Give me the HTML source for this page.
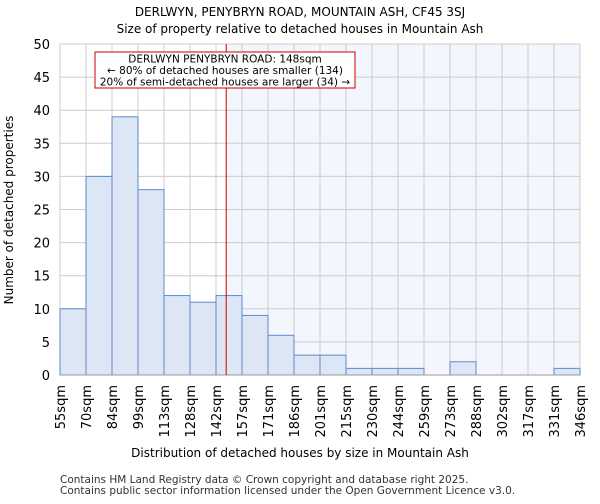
<!DOCTYPE html>
<html><head><meta charset="utf-8"><style>
body{margin:0;background:#fff;font-family:"DejaVu Sans","Liberation Sans",sans-serif}
</style></head><body>
<svg id="c" width="600" height="500" xmlns="http://www.w3.org/2000/svg" font-family="DejaVu Sans, Liberation Sans, sans-serif">
<text x="300" y="16" font-size="12" text-anchor="middle">DERLWYN, PENYBRYN ROAD, MOUNTAIN ASH, CF45 3SJ</text>
<text x="300" y="33" font-size="12" text-anchor="middle">Size of property relative to detached houses in Mountain Ash</text>
<g id="plot"></g>
<text x="300" y="457" font-size="12" text-anchor="middle">Distribution of detached houses by size in Mountain Ash</text>
<text transform="translate(13,210) rotate(-90)" font-size="12" text-anchor="middle">Number of detached properties</text>
<text x="60" y="483" font-size="10.5" fill="#333">Contains HM Land Registry data © Crown copyright and database right 2025.</text>
<text x="60" y="494" font-size="10.5" fill="#333">Contains public sector information licensed under the Open Government Licence v3.0.</text>
</svg>
<script>
const categories=["55sqm","70sqm","84sqm","99sqm","113sqm","128sqm","142sqm","157sqm","171sqm","186sqm","201sqm","215sqm","230sqm","244sqm","259sqm","273sqm","288sqm","302sqm","317sqm","331sqm","346sqm"];
const counts=[10,30,39,28,12,11,12,9,6,3,3,1,1,1,0,2,0,0,0,1];
const yTicks=[0,5,10,15,20,25,30,35,40,45,50];
const binStart=55,binWidth=14.55,marker=148;
const L=60,R=580,T=44,B=375,yMax=50;
const NS="http://www.w3.org/2000/svg";
const g=document.getElementById('plot');
const bw=(R-L)/counts.length;
const xs=i=>L+i*bw;
const ys=v=>B-(v/yMax)*(B-T);
const xv=v=>L+(v-binStart)/binWidth*bw;
function mk(t,a){const e=document.createElementNS(NS,t);for(const k in a)e.setAttribute(k,a[k]);g.appendChild(e);return e;}
const mx=xv(marker);
let e=mk('rect',{x:mx,y:T,width:R-mx,height:B-T,fill:'#f3f6fd'});


yTicks.forEach(v=>{
 let l=mk('line',{x1:L,x2:R,y1:ys(v),y2:ys(v),stroke:'#ccc','stroke-width':1});
 
 
 let t=mk('text',{x:L-10,y:ys(v)+5,'font-size':13,'text-anchor':'end'});t.textContent=v;
 
 
});
categories.forEach((c,i)=>{
 let l=mk('line',{x1:xs(i),x2:xs(i),y1:T,y2:B,stroke:'#ccc','stroke-width':1});
 
 
 let t=mk('text',{transform:`translate(${xs(i)+5},${B+10}) rotate(-90)`,'font-size':13,'text-anchor':'end'});t.textContent=c;
 
 
});
counts.forEach((v,i)=>{
 if(v<=0)return;
 let r=mk('rect',{x:xs(i),y:ys(v),width:bw,height:B-ys(v),fill:'#dce6f5',stroke:'#5b8bd0','stroke-width':1});
 
 
});
let ax=mk('line',{x1:L,x2:R,y1:B,y2:B,stroke:'#999'});


let ml=mk('line',{x1:mx,x2:mx,y1:T,y2:B,stroke:'#cc0000','stroke-width':1});


let bx=mk('rect',{x:95,y:52,width:260,height:36,fill:'#fff',stroke:'#cc0000','stroke-width':1});


["DERLWYN PENYBRYN ROAD: 148sqm","← 80% of detached houses are smaller (134)","20% of semi-detached houses are larger (34) →"].forEach((s,i)=>{
 let t=mk('text',{x:225,y:62.5+i*11.5,'font-size':10.5,'text-anchor':'middle'});t.textContent=s;
 
 
});
</script>
</body></html>
